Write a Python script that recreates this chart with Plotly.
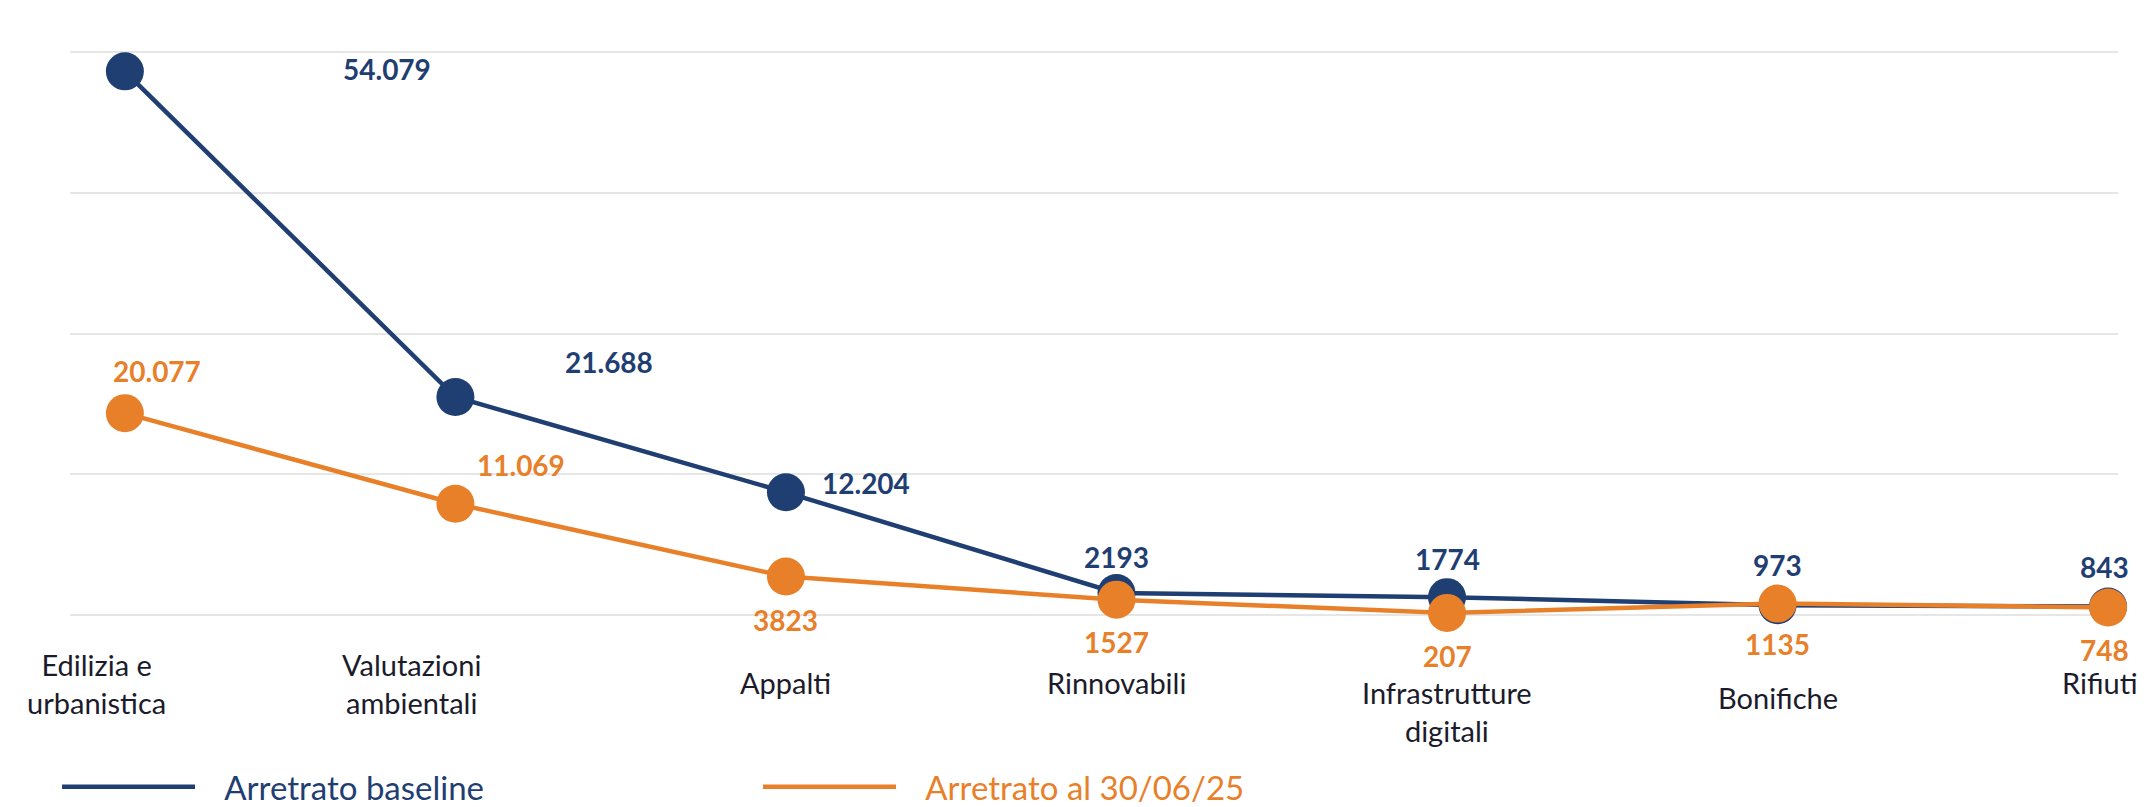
import plotly.graph_objects as go

categories = ["Edilizia e<br>urbanistica", "Valutazioni<br>ambientali", "Appalti", "Rinnovabili",
              "Infrastrutture<br>digitali", "Bonifiche", "Rifiuti"]
baseline = [54079, 21688, 12204, 2193, 1774, 973, 843]
current = [20077, 11069, 3823, 1527, 207, 1135, 748]
baseline_labels = ["54.079", "21.688", "12.204", "2193", "1774", "973", "843"]
current_labels = ["20.077", "11.069", "3823", "1527", "207", "1135", "748"]
series_names = ["Arretrato baseline", "Arretrato al 30/06/25"]

BLUE = "#1F3E72"
ORANGE = "#E8802A"
TEXT = "#1B1B2B"
FONT = "Lato, 'Open Sans', sans-serif"

# label offsets (px) relative to each point: style, not data
blue_off = [(262, 2), (154, 35), (80, 9), (0, 36), (0, 38), (0, 40), (-4, 40)]
orange_off = [(32, 42), (66, 39), (0, -43), (0, -42), (0, -43), (0, -40), (-4, -43)]
# category label offsets (px) relative to the category position on the zero line
cat_off = [(-28, -68), (-44, -68), (0, -67), (0, -67), (0, -96), (0, -82), (-8, -67)]

fig = go.Figure()
for vals, color, name in [(baseline, BLUE, series_names[0]), (current, ORANGE, series_names[1])]:
    fig.add_trace(go.Scatter(
        x=categories, y=vals, mode="lines",
        line=dict(color=color, width=4.5),
        name=f'<span style="color:{color}">\u00a0\u00a0\u00a0{name}</span>',
        cliponaxis=False, hoverinfo="skip"))
    fig.add_trace(go.Scatter(
        x=categories, y=vals, mode="markers",
        marker=dict(color=color, size=38),
        showlegend=False, cliponaxis=False))

annotations = []
for labels, vals, offs, color in [(baseline_labels, baseline, blue_off, BLUE),
                                  (current_labels, current, orange_off, ORANGE)]:
    for c, v, t, (dx, dy) in zip(categories, vals, labels, offs):
        annotations.append(dict(
            x=c, y=v, text=f"<b>{t}</b>", showarrow=False,
            xshift=dx, yshift=dy, xanchor="center", yanchor="middle",
            font=dict(family=FONT, size=28, color=color)))

for c, (dx, dy) in zip(categories, cat_off):
    annotations.append(dict(
        x=c, y=0, text=c, showarrow=False, xshift=dx, yshift=dy,
        xanchor="center", yanchor="middle", align="center",
        font=dict(family=FONT, size=29, color=TEXT)))

fig.update_layout(
    width=2151, height=807,
    margin=dict(l=62, r=41, t=34, b=200),
    paper_bgcolor="white", plot_bgcolor="white",
    font=dict(family=FONT),
    annotations=annotations,
    showlegend=True,
    legend=dict(orientation="h", xref="container", yref="container",
                x=0.0228, xanchor="left", y=0.035, yanchor="middle",
                font=dict(family=FONT, size=33), itemwidth=133,
                entrywidth=553, entrywidthmode="pixels",
                bgcolor="rgba(0,0,0,0)"),
    xaxis=dict(type="category", range=[-0.166, 6.03], showgrid=False, showline=False,
               zeroline=False, ticks="", showticklabels=False, automargin=False),
    yaxis=dict(range=[0, 57000], dtick=14000, showticklabels=False, showline=False,
               gridcolor="#E6E6E6", gridwidth=2, zeroline=True, automargin=False,
               zerolinecolor="#E6E6E6", zerolinewidth=2),
)

fig.write_html("out.html")
